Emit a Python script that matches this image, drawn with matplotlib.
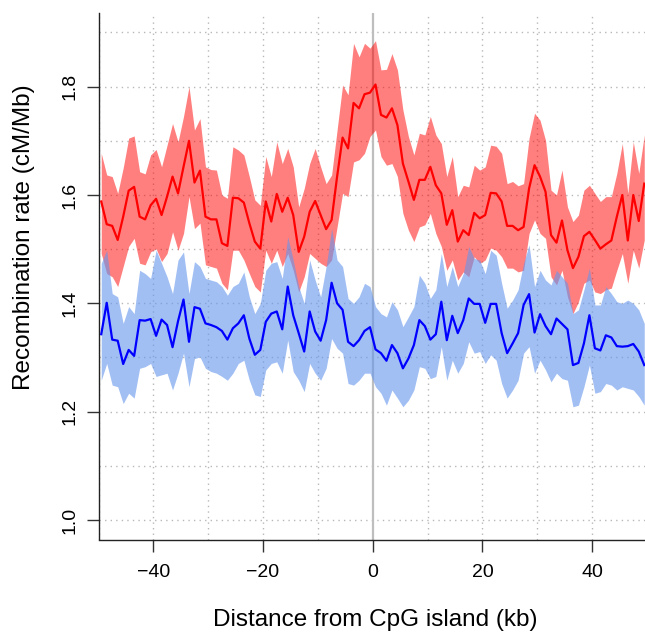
import numpy as np
import matplotlib
matplotlib.use("Agg")
import matplotlib.pyplot as plt

plt.rcParams['font.family'] = ['Liberation Sans', 'DejaVu Sans']

# distance bins (kb)
distance = np.arange(-49.5, 50, 1.0)

red_mean = [1.588, 1.546, 1.543, 1.517, 1.560, 1.608, 1.615, 1.560, 1.555, 1.581, 1.593, 1.563, 1.597, 1.634, 1.603, 1.652, 1.700, 1.623, 1.645, 1.560, 1.555, 1.555, 1.511, 1.506, 1.595,
            1.594, 1.586, 1.548, 1.514, 1.501, 1.588, 1.551, 1.602, 1.569, 1.595, 1.563, 1.495, 1.523, 1.569, 1.589, 1.563, 1.537, 1.554, 1.634, 1.706, 1.686, 1.770, 1.760, 1.786,
            1.789, 1.804, 1.748, 1.743, 1.760, 1.729, 1.658, 1.625, 1.591, 1.628, 1.628, 1.652, 1.618, 1.603, 1.545, 1.572, 1.514, 1.535, 1.526, 1.567, 1.557, 1.563, 1.604,
            1.603, 1.588, 1.543, 1.543, 1.535, 1.541, 1.612, 1.655, 1.634, 1.606, 1.526, 1.512, 1.553, 1.498, 1.465, 1.486, 1.524, 1.532, 1.517, 1.501, 1.509, 1.516, 1.560, 1.600, 1.516, 1.600, 1.552, 1.621]
red_upper = [1.677, 1.637, 1.634, 1.603, 1.650, 1.705, 1.709, 1.643, 1.639, 1.674, 1.684, 1.652, 1.692, 1.732, 1.698, 1.745, 1.800, 1.720, 1.741, 1.652, 1.647, 1.646, 1.600, 1.594, 1.689,
             1.683, 1.674, 1.634, 1.591, 1.581, 1.671, 1.634, 1.698, 1.658, 1.686, 1.652, 1.578, 1.612, 1.658, 1.686, 1.652, 1.621, 1.637, 1.720, 1.803, 1.785, 1.880, 1.855, 1.880,
             1.871, 1.885, 1.831, 1.832, 1.861, 1.831, 1.757, 1.708, 1.674, 1.714, 1.711, 1.745, 1.711, 1.695, 1.634, 1.671, 1.597, 1.618, 1.615, 1.655, 1.646, 1.652, 1.692,
             1.690, 1.677, 1.621, 1.625, 1.617, 1.621, 1.705, 1.751, 1.738, 1.701, 1.609, 1.600, 1.646, 1.578, 1.551, 1.563, 1.609, 1.618, 1.603, 1.588, 1.597, 1.597, 1.640, 1.695, 1.603, 1.698, 1.640, 1.711]
red_lower = [1.492, 1.455, 1.449, 1.431, 1.468, 1.505, 1.520, 1.474, 1.471, 1.495, 1.501, 1.477, 1.492, 1.532, 1.498, 1.529, 1.597, 1.538, 1.548, 1.471, 1.468, 1.465, 1.437, 1.425, 1.498,
             1.498, 1.480, 1.455, 1.431, 1.421, 1.498, 1.474, 1.498, 1.468, 1.492, 1.461, 1.421, 1.449, 1.492, 1.483, 1.474, 1.468, 1.480, 1.541, 1.603, 1.597, 1.661, 1.665, 1.677,
             1.708, 1.720, 1.671, 1.655, 1.658, 1.634, 1.566, 1.535, 1.514, 1.541, 1.545, 1.566, 1.529, 1.505, 1.461, 1.480, 1.443, 1.458, 1.449, 1.486, 1.474, 1.480, 1.502,
             1.498, 1.486, 1.465, 1.465, 1.458, 1.461, 1.529, 1.554, 1.529, 1.520, 1.449, 1.434, 1.461, 1.412, 1.381, 1.403, 1.437, 1.443, 1.421, 1.418, 1.425, 1.428, 1.461, 1.492, 1.437, 1.498, 1.465, 1.517]

blue_mean = [1.343, 1.401, 1.333, 1.331, 1.288, 1.314, 1.303, 1.369, 1.368, 1.371, 1.340, 1.370, 1.360, 1.319, 1.367, 1.407, 1.329, 1.393, 1.390, 1.363, 1.360, 1.356, 1.349, 1.333, 1.354,
             1.363, 1.378, 1.335, 1.305, 1.314, 1.366, 1.381, 1.385, 1.352, 1.431, 1.378, 1.345, 1.311, 1.385, 1.348, 1.331, 1.369, 1.438, 1.400, 1.388, 1.329, 1.321, 1.332, 1.349,
             1.356, 1.315, 1.308, 1.294, 1.323, 1.308, 1.280, 1.298, 1.323, 1.369, 1.358, 1.333, 1.343, 1.403, 1.332, 1.377, 1.345, 1.369, 1.409, 1.399, 1.399, 1.364, 1.399,
             1.399, 1.345, 1.308, 1.326, 1.345, 1.397, 1.417, 1.346, 1.380, 1.358, 1.343, 1.372, 1.362, 1.352, 1.286, 1.290, 1.326, 1.378, 1.317, 1.313, 1.341, 1.337, 1.321, 1.320, 1.321, 1.325, 1.311, 1.286]
blue_upper = [1.474, 1.498, 1.418, 1.412, 1.363, 1.394, 1.381, 1.461, 1.455, 1.446, 1.498, 1.474, 1.449, 1.418, 1.480, 1.495, 1.418, 1.477, 1.468, 1.446, 1.443, 1.440, 1.431, 1.415, 1.431,
              1.437, 1.458, 1.412, 1.381, 1.400, 1.461, 1.474, 1.477, 1.446, 1.523, 1.480, 1.431, 1.400, 1.480, 1.443, 1.412, 1.468, 1.538, 1.480, 1.468, 1.409, 1.400, 1.412, 1.437,
              1.431, 1.394, 1.381, 1.375, 1.403, 1.388, 1.357, 1.375, 1.394, 1.452, 1.437, 1.409, 1.425, 1.492, 1.431, 1.468, 1.431, 1.455, 1.505, 1.483, 1.480, 1.455, 1.498,
              1.489, 1.437, 1.391, 1.406, 1.425, 1.474, 1.508, 1.431, 1.461, 1.443, 1.434, 1.461, 1.449, 1.437, 1.381, 1.388, 1.425, 1.465, 1.397, 1.397, 1.431, 1.418, 1.403, 1.400, 1.406, 1.400, 1.388, 1.363]
blue_lower = [1.258, 1.289, 1.249, 1.246, 1.215, 1.234, 1.225, 1.280, 1.283, 1.289, 1.265, 1.268, 1.271, 1.240, 1.271, 1.308, 1.246, 1.298, 1.301, 1.280, 1.274, 1.271, 1.265, 1.258, 1.271,
              1.289, 1.295, 1.258, 1.231, 1.228, 1.277, 1.289, 1.292, 1.271, 1.332, 1.274, 1.258, 1.237, 1.289, 1.271, 1.258, 1.280, 1.335, 1.317, 1.308, 1.252, 1.249, 1.258, 1.271,
              1.271, 1.246, 1.234, 1.212, 1.240, 1.225, 1.209, 1.221, 1.240, 1.283, 1.280, 1.261, 1.265, 1.320, 1.258, 1.295, 1.271, 1.289, 1.329, 1.308, 1.311, 1.289, 1.305,
              1.295, 1.252, 1.225, 1.240, 1.258, 1.308, 1.320, 1.271, 1.295, 1.277, 1.255, 1.271, 1.261, 1.258, 1.209, 1.212, 1.246, 1.286, 1.234, 1.237, 1.252, 1.249, 1.240, 1.246, 1.243, 1.240, 1.228, 1.212]

x_ticks = [-40, -20, 0, 20, 40]
x_tick_labels = ['\u221240', '\u221220', '0', '20', '40']
y_ticks = [1.0, 1.2, 1.4, 1.6, 1.8]
y_tick_labels = ['1.0', '1.2', '1.4', '1.6', '1.8']

W, H = 645, 634
fig = plt.figure(figsize=(W / 100, H / 100), dpi=100)
ax = fig.add_axes([98.5 / W, (H - 539.5) / H, 548.5 / W, 526.5 / H])

# grid
for gx in range(-50, 51, 10):
    if gx != 0:
        ax.axvline(gx, color='#b8b8b8', lw=1.0, ls=(0, (1, 3)), zorder=0)
for gy in np.arange(1.0, 1.95, 0.1):
    ax.axhline(gy, color='#b8b8b8', lw=1.0, ls=(0, (1, 3)), zorder=0)
ax.axvline(0, color='#bebebe', lw=1.6, zorder=0.5)

ax.fill_between(distance, red_lower, red_upper, color='#ff0000', alpha=0.5, lw=0, zorder=1)
ax.fill_between(distance, blue_lower, blue_upper, color='#6495ed', alpha=0.6, lw=0, zorder=2)
ax.plot(distance, red_mean, color='#ff0000', lw=1.6, zorder=3)
ax.plot(distance, blue_mean, color='#0000ff', lw=1.6, zorder=3)

ax.set_xlim(-50, 50)
ax.set_ylim(0.964, 1.936)
ax.set_xticks(x_ticks)
ax.set_xticklabels(x_tick_labels)
ax.set_yticks(y_ticks)
ax.set_yticklabels(y_tick_labels, rotation=90, va='center')

for s in ['top', 'right']:
    ax.spines[s].set_visible(False)
for s in ['left', 'bottom']:
    ax.spines[s].set_linewidth(1.0)
    ax.spines[s].set_color('#222222')
ax.tick_params(axis='both', direction='out', length=8.5, width=1.0, color='#333333', labelsize=14)
ax.tick_params(axis='x', pad=9)
ax.tick_params(axis='y', pad=6)

fig.text(375 / W, (H - 620) / H, 'Distance from CpG island (kb)', fontsize=17.5,
         ha='center', va='center')
fig.text(24 / W, (H - 237) / H, 'Recombination rate (cM/Mb)', fontsize=17.5,
         ha='center', va='center', rotation=90)

fig.savefig('out.png', dpi=100)
